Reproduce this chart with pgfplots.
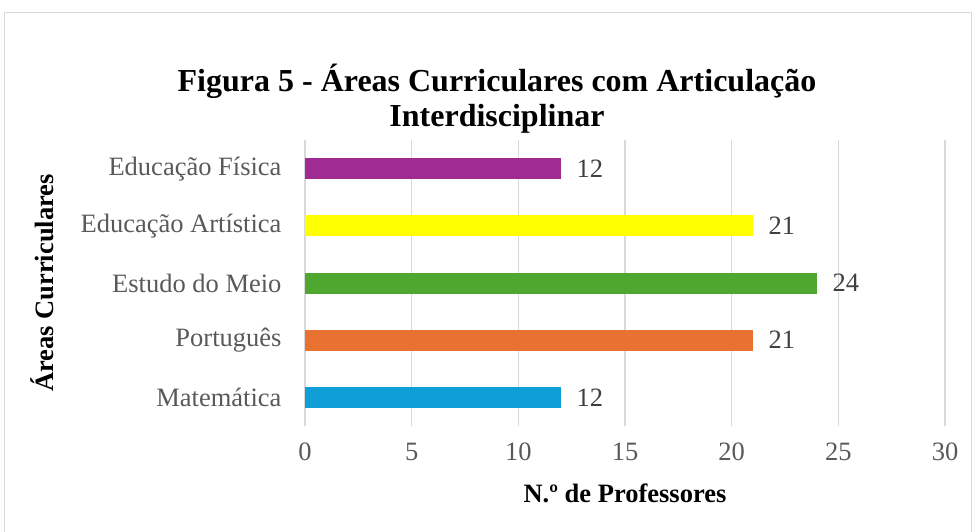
\documentclass[border=0pt]{standalone}
\usepackage{fontspec}
\setmainfont{Liberation Serif}
\usepackage{pgfplots}
\pgfplotsset{compat=1.18}

\definecolor{cBlue}{HTML}{0F9ED5}
\definecolor{cOrange}{HTML}{E97132}
\definecolor{cGreen}{HTML}{4EA72E}
\definecolor{cYellow}{HTML}{FFFF00}
\definecolor{cPurple}{HTML}{A02B93}
\definecolor{gridgray}{HTML}{D9D9D9}
\definecolor{ticktext}{HTML}{595959}
\definecolor{valtext}{HTML}{404040}

\begin{document}
\begin{tikzpicture}[x=1pt,y=1pt]
\path[use as bounding box] (0,0) rectangle (973,-531);
% chart frame
\draw[gridgray, line width=1.2pt] (4.5,-545) -- (4.5,-12.5) -- (971.5,-12.5) -- (971.5,-545);

% title
\node[align=center, font=\fontsize{32}{35}\selectfont\bfseries] at (497,-99)
  {Figura 5 - Áreas Curriculares com Articulação\\Interdisciplinar};

\begin{axis}[
  at={(305pt,-426pt)}, anchor=south west,
  scale only axis,
  width=640pt, height=286pt,
  xbar, bar width=21pt,
  xmin=0, xmax=30,
  ymin=-0.5, ymax=4.5,
  xtick={0,5,...,30},
  ytick={0,1,2,3,4},
  yticklabels={Matemática, Português, Estudo do Meio, Educação Artística, Educação Física},
  xmajorgrids,
  grid style={gridgray, line width=1.5pt},
  axis line style={draw=none},
  major tick length=0pt,
  tick label style={font=\fontsize{26.5}{30}\selectfont, text=ticktext},
  /pgf/number format/assume math mode=true,
  xticklabel style={anchor=center, yshift=-26pt},
  yticklabel style={anchor=east, xshift=-20pt},
  xlabel={N.º de Professores},
  ylabel={Áreas Curriculares},
  label style={font=\fontsize{26.5}{30}\selectfont\bfseries},
  xlabel style={at={(axis description cs:0.5,0)}, anchor=center, yshift=-67pt},
  ylabel style={at={(axis description cs:-0.411,0.5)}, anchor=center},
  nodes near coords,
  nodes near coords style={anchor=west, xshift=12pt, text=valtext,
    font=\fontsize{26.5}{30}\selectfont},
  point meta=explicit symbolic,
]
\addplot[draw=none, fill=cBlue, bar shift=0pt] coordinates {(12,0) [12]};
\addplot[draw=none, fill=cOrange, bar shift=0pt] coordinates {(21,1) [21]};
\addplot[draw=none, fill=cGreen, bar shift=0pt] coordinates {(24,2) [24]};
\addplot[draw=none, fill=cYellow, bar shift=0pt] coordinates {(21,3) [21]};
\addplot[draw=none, fill=cPurple, bar shift=0pt] coordinates {(12,4) [12]};
\end{axis}
\end{tikzpicture}
\end{document}
